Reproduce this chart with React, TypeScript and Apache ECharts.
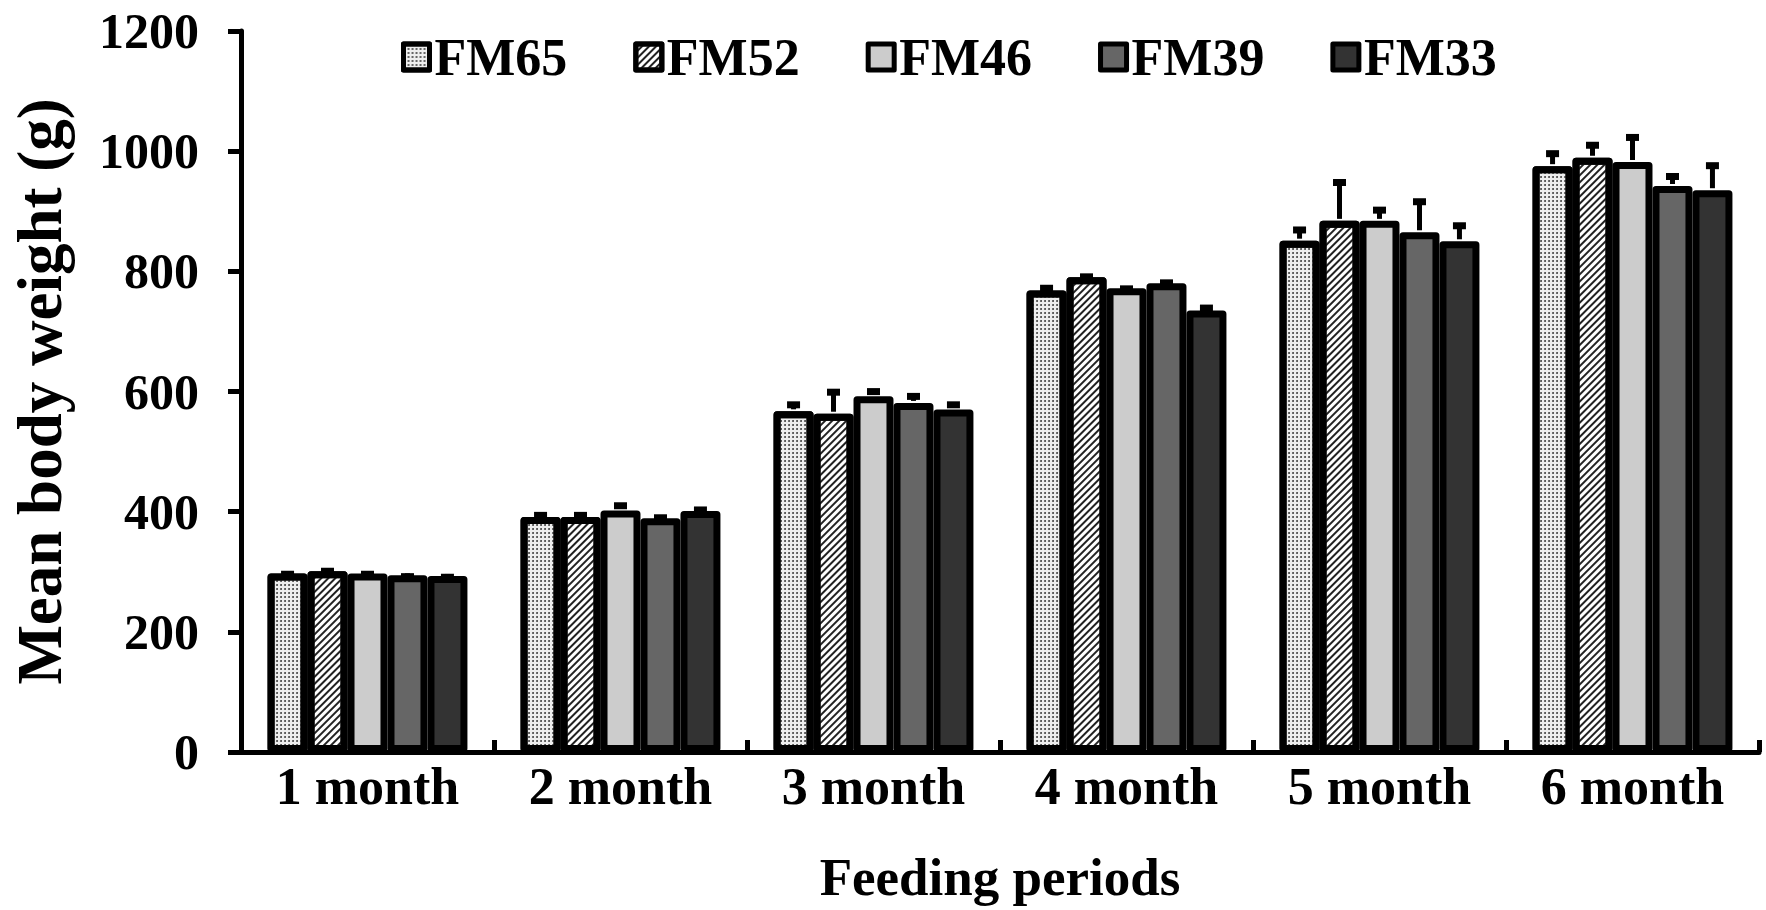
import React, { useEffect, useRef } from "react";
import * as echarts from "echarts";

const categories = ["1 month", "2 month", "3 month", "4 month", "5 month", "6 month"];
const seriesNames = ["FM65", "FM52", "FM46", "FM39", "FM33"];
const fm65 = [297, 391, 567, 768, 851, 975];
const fm52 = [301, 391, 563, 790, 884, 989];
const fm46 = [297, 402, 592, 772, 884, 982];
const fm39 = [294, 389, 581, 780, 865, 942];
const fm33 = [293, 401, 570, 735, 850, 935];
const err65 = [3, 7, 15, 8, 22, 25];
const err52 = [4, 7, 40, 5, 68, 25];
const err46 = [3, 12, 12, 3, 22, 45];
const err39 = [2, 5, 15, 5, 55, 20];
const err33 = [2, 6, 12, 8, 30, 45];
const yTicks = [0, 200, 400, 600, 800, 1000, 1200];

const FONT = "'Liberation Serif', 'Times New Roman', serif";

export default function App() {
  const ref = useRef<HTMLDivElement>(null);
  useEffect(() => {
    if (!ref.current) return;
    const chart = echarts.init(ref.current, null, { renderer: "svg" });
    const values = [fm65, fm52, fm46, fm39, fm33];
    const errs = [err65, err52, err46, err39, err33];
    const styles: any[] = [
      {
        color: "#eeeeee",
        decal: {
          symbol: "circle",
          symbolSize: 0.9,
          color: "#333",
          dashArrayX: [2, 2],
          dashArrayY: [2, 2],
        },
      },
      {
        color: "#ffffff",
        decal: {
          symbol: "rect",
          symbolSize: 1,
          color: "#222",
          dashArrayX: [1, 0],
          dashArrayY: [2, 3],
          rotation: -Math.PI / 4,
        },
      },
      { color: "#cccccc" },
      { color: "#666666" },
      { color: "#333333" },
    ];
    const gapRatio = 0.21;
    const barSeries = seriesNames.map((name, i) => ({
      name,
      type: "bar",
      data: values[i],
      barGap: "0%",
      barCategoryGap: "21%",
      itemStyle: {
        ...styles[i],
        borderColor: "#000",
        borderWidth: 7,
        borderJoin: "round",
      },
      z: 2,
    }));
    const errSeries = seriesNames.map((name, i) => ({
      type: "custom",
      name: name + " error",
      z: 3,
      data: values[i].map((v, k) => [k, v, errs[i][k]]),
      renderItem: (params: any, api: any) => {
        const idx = api.value(0);
        const v = api.value(1);
        const e = api.value(2);
        const band = api.size([1, 0])[0];
        const bw = (band * (1 - gapRatio)) / 5;
        const base = api.coord([idx, v]);
        const cx = base[0] + (i - 2) * bw;
        const yTop = base[1];
        const yE = api.coord([idx, v + e])[1];
        return {
          type: "group",
          children: [
            {
              type: "line",
              shape: { x1: cx, y1: yTop - 2, x2: cx, y2: yE + 2 },
              style: { stroke: "#000", lineWidth: 5 },
            },
            {
              type: "rect",
              shape: { x: cx - 6.5, y: yE - 1, width: 13, height: 7 },
              style: { fill: "#000" },
            },
          ],
        };
      },
    }));
    chart.setOption({
      animation: false,
      backgroundColor: "#fff",
      legend: {
        data: seriesNames,
        left: 396,
        top: 26,
        icon: "rect",
        itemWidth: 26,
        itemHeight: 26,
        itemGap: 66,
        itemStyle: { borderColor: "#000", borderWidth: 5 },
        textStyle: { fontFamily: FONT, fontWeight: "bold", fontSize: 52, color: "#000" },
      },
      grid: { left: 236, right: 7, top: 31, bottom: 158, containLabel: false },
      xAxis: {
        type: "category",
        data: categories,
        name: "Feeding periods",
        nameLocation: "middle",
        nameGap: 98,
        nameTextStyle: { fontFamily: FONT, fontWeight: "bold", fontSize: 53, color: "#000" },
        axisLine: { lineStyle: { color: "#000", width: 5 } },
        axisTick: { show: true, inside: true, length: 12, lineStyle: { color: "#000", width: 5 } },
        axisLabel: { fontFamily: FONT, fontWeight: "bold", fontSize: 52, color: "#000", margin: 8 },
      },
      yAxis: {
        type: "value",
        min: yTicks[0],
        max: yTicks[yTicks.length - 1],
        interval: 200,
        name: "Mean body weight (g)",
        nameLocation: "middle",
        nameGap: 170,
        nameTextStyle: { fontFamily: FONT, fontWeight: "bold", fontSize: 63, color: "#000" },
        axisLine: { show: true, lineStyle: { color: "#000", width: 5 } },
        axisTick: { show: true, inside: false, length: 13, lineStyle: { color: "#000", width: 5 } },
        axisLabel: {
          fontFamily: FONT,
          fontWeight: "bold",
          fontSize: 50,
          color: "#000",
          margin: 42,
          formatter: (v: number) => String(v),
        },
        splitLine: { show: false },
      },
      series: [...barSeries, ...errSeries],
    });
    return () => chart.dispose();
  }, []);
  return (
    <div
      ref={ref}
      style={{ position: "fixed", left: 0, top: 0, width: 1766, height: 910, background: "#fff" }}
    />
  );
}
